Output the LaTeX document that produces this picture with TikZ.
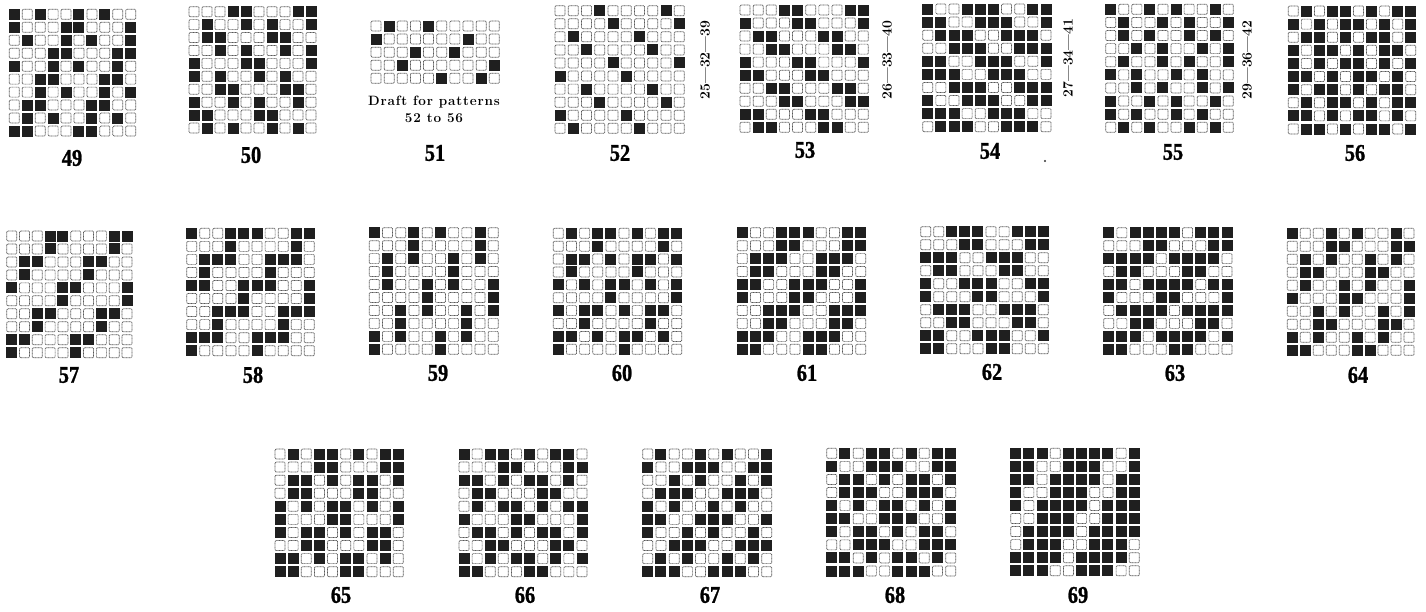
\documentclass[tikz,border=0pt]{standalone}
\usepackage{fontspec}
\setmainfont{Latin Modern Roman}
\newfontfamily\numfont[FakeBold=1.2]{Liberation Serif Bold}
\newcount\wvcol
\tikzset{
  x=1pt,y=-1pt,
  fullcell/.style={fill=black!88},
  emptycell/.style={draw=black!66,line width=0.7pt,dash pattern=on 0.9pt off 0.5pt,rounded corners=1pt},
  fignum/.style={inner sep=0pt,font=\numfont\fontsize{24}{24}\selectfont},
  sidelabel/.style={inner sep=0pt,rotate=90,font=\bfseries\fontsize{14}{14}\selectfont},
  draftlabel/.style={inner sep=0pt,font=\bfseries\fontsize{13.5}{15}\selectfont\addfontfeatures{LetterSpace=6}},
}
\newcommand{\wvcell}[1]{%
  \pgfmathsetmacro\wvx{\wvxa+\the\wvcol*\wvdx}%
  \if#11\relax
    \fill[fullcell] ({\wvx-5.5},{\wvy-5.5}) rectangle ++(11,11);%
  \else
    \draw[emptycell] ({\wvx-5},{\wvy-5}) rectangle ++(10,10);%
  \fi}
\def\wvcells#1{\ifx#1\relax\else\wvcell{#1}\global\advance\wvcol by 1 \expandafter\wvcells\fi}
% x of first col, y of first row, x of last col, y of last row, rows-1, rows
\newcommand{\wvgrid}[6]{%
  \pgfmathsetmacro\wvxa{#1}%
  \pgfmathsetmacro\wvdx{(#3-#1)/9}%
  \pgfmathsetmacro\wvdy{(#4-#2)/#5}%
  \foreach \wvr [count=\wvi from 0] in {#6}{%
    \pgfmathsetmacro\wvy{#2+\wvi*\wvdy}%
    \global\wvcol=0
    \expandafter\wvcells\wvr\relax
  }}
\newcommand{\fignum}[3]{\node[fignum] (n#3) at (#1,#2) {\scalebox{.85}[1]{#3}};}
\begin{document}
\begin{tikzpicture}
\useasboundingbox (0,0) rectangle (1426,611);
\fill[white] (0,0) rectangle (1426,611);
\wvgrid{14.3}{14.3}{130.7}{131}{9}{1010010100,1000110001,0100101001,0001100011,1001010010,0011000110,0010100101,0110001100,0101001010,1100011000}
\wvgrid{194}{11.7}{311}{128}{9}{0001100011,0100101001,0110001100,0010100101,1000110001,1010010100,0011000110,1001010010,1100011000,0101001010}
\wvgrid{376}{26}{494.3}{78.3}{4}{0100100000,1000000100,0001001000,0010000001,0000010010}
\wvgrid{560}{10.7}{679.3}{128.3}{9}{0001000010,0000100001,0100001000,0010000100,0000100001,1000010000,0010000100,0001000010,1000010000,0100001000}
\wvgrid{745}{10}{863.3}{127.3}{9}{0001100011,1000110001,0110001100,0011000110,1000110001,1100011000,0011000110,0001100011,1100011000,0110001100}
\wvgrid{927.7}{9}{1046}{126.7}{9}{1001110011,1100111001,0111001110,0011100111,1100111001,1110011100,0011100111,1001110011,1110011100,0111001110}
\wvgrid{1110.7}{9.3}{1228.3}{127.3}{9}{1001010010,0100101001,0101001010,0010100101,0100101001,1010010100,0010100101,1001010010,1010010100,0101001010}
\wvgrid{1293.3}{11}{1410.7}{129}{9}{0101101011,1010110101,0110101101,1011010110,1010110101,1101011010,1011010110,0101101011,1101011010,0110101101}
\wvgrid{11.7}{236}{127}{352.7}{9}{0001100011,0001000010,0110001100,0100001000,1000110001,0000100001,0011000110,0010000100,1100011000,1000010000}
\wvgrid{191.7}{233.3}{309.3}{350.7}{9}{1001110011,0001000010,0111001110,0100001000,1100111001,0000100001,0011100111,0010000100,1110011100,1000010000}
\wvgrid{374.3}{232.7}{493.3}{349.3}{9}{1001010010,0001000010,0101001010,0100001000,0100101001,0000100001,0010100101,0010000100,1010010100,1000010000}
\wvgrid{558.3}{233.3}{676.7}{349.3}{9}{0101101011,0001000010,0110101101,0100001000,1010110101,0000100001,1011010110,0010000100,1101011010,1000010000}
\wvgrid{742.3}{232.7}{860.7}{349.3}{9}{1001110011,0001100011,0111001110,0110001100,1100111001,1000110001,0011100111,0011000110,1110011100,1100011000}
\wvgrid{925.7}{231.7}{1043.3}{348.7}{9}{0011100111,0001100011,1110011100,0110001100,1001110011,1000110001,0111001110,0011000110,1100111001,1100011000}
\wvgrid{1108.7}{232.7}{1227}{349.3}{9}{1011110111,0001100011,1111011110,0110001100,1101111011,1000110001,0111101111,0011000110,1110111101,1100011000}
\wvgrid{1292.3}{233.3}{1409}{350.3}{9}{1001010010,0001100011,0101001010,0110001100,0100101001,1000110001,0010100101,0011000110,1010010100,1100011000}
\wvgrid{280}{454}{398.3}{571.7}{9}{0101101011,0001100011,0110101101,0110001100,1010110101,1000110001,1011010110,0011000110,1101011010,1100011000}
\wvgrid{464}{454}{582}{571.7}{9}{1011010110,0001100011,1101011010,0110001100,0101101011,1000110001,0110101101,0011000110,1010110101,1100011000}
\wvgrid{647.7}{454}{766.7}{571.7}{9}{0100101001,1001110011,0010100101,0111001110,1010010100,1100111001,1001010010,0011100111,0101001010,1110011100}
\wvgrid{831.7}{453.3}{950.7}{571}{9}{0101101011,1001110011,0110101101,0111001110,1010110101,1100111001,1011010110,0011100111,1101011010,1110011100}
\wvgrid{1015.7}{453.3}{1134.3}{570.7}{9}{1110111101,1100111001,1101111011,1001110011,1011110111,0011100111,0111101111,0111001110,1111011110,1110011100}
\fignum{72}{158}{49}
\fignum{251}{155}{50}
\fignum{435}{153}{51}
\fignum{620}{153}{52}
\fignum{805}{150}{53}
\fignum{990}{151}{54}
\fignum{1173}{152}{55}
\fignum{1355}{153}{56}
\fignum{69}{375}{57}
\fignum{253}{375}{58}
\fignum{438}{373}{59}
\fignum{622}{373}{60}
\fignum{807}{373}{61}
\fignum{992}{372}{62}
\fignum{1175}{373}{63}
\fignum{1358}{375}{64}
\fignum{341}{595}{65}
\fignum{525}{595}{66}
\fignum{710}{595}{67}
\fignum{895}{595}{68}
\fignum{1078}{595}{69}
\node[sidelabel] (s25) at (705,60) {25—32—39};
\node[sidelabel] (s26) at (887,60) {26—33—40};
\node[sidelabel] (s27) at (1068,58) {27—34—41};
\node[sidelabel] (s29) at (1247,60) {29—36—42};
\node[draftlabel] (d1) at (434,102) {Draft for patterns};
\node[draftlabel] (d2) at (434,118) {52 to 56};
\fill[black!80] (1045,161) circle (1.1);
\end{tikzpicture}
\end{document}
